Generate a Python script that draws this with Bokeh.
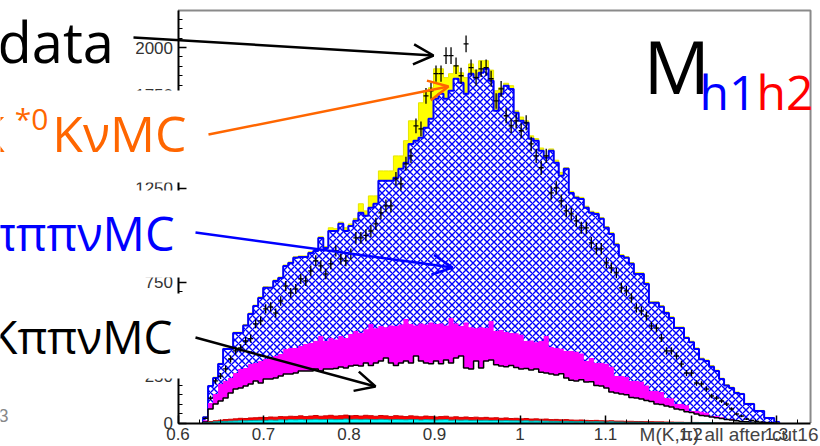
import numpy as np
from bokeh.plotting import figure
from bokeh.models import Label, Arrow, OpenHead, BoxAnnotation, FixedTicker
from bokeh.embed import file_html
from bokeh.resources import INLINE

# ---------------- data ----------------
# histogram binning: 128 bins over [0.6, 1.35]; filled bins start at bin 5
HIST_LO, HIST_HI, N_BINS, FIRST_BIN = 0.6, 1.35, 128, 5

# stacked tops (cumulative heights, as drawn by the stack)
yellow_top = [33, 200, 244, 318, 398, 398, 484, 484, 525, 586,
              628, 672, 726, 724, 762, 778, 842, 858, 886, 890,
              890, 912, 922, 992, 940, 1040, 1035, 1070, 1040, 1060,
              1090, 1168, 1130, 1210, 1210, 1343, 1343, 1343, 1423, 1423,
              1504, 1610, 1610, 1706, 1770, 1786, 1887, 1887, 1840, 1861,
              1903, 1866, 1840, 1913, 1880, 1930, 1930, 1880, 1770, 1786,
              1810, 1797, 1663, 1630, 1610, 1530, 1515, 1465, 1425, 1460,
              1400, 1335, 1360, 1234, 1208, 1202, 1155, 1128, 1122, 1095,
              1047, 1014, 957, 897, 887, 855, 801, 800, 748, 646,
              646, 626, 592, 566, 512, 512, 459, 436, 400, 346,
              336, 306, 282, 239, 205, 191, 165, 158, 105, 105,
              67, 67, 30, 29, 6]
blue_top = [30, 197, 240, 314, 394, 394, 480, 480, 520, 581,
            624, 666, 720, 720, 757, 773, 837, 853, 880, 885,
            885, 906, 917, 986, 933, 1023, 1023, 1061, 1023, 1050,
            1077, 1120, 1104, 1147, 1168, 1290, 1290, 1290, 1306, 1354,
            1386, 1487, 1504, 1520, 1573, 1621, 1727, 1754, 1727, 1770,
            1834, 1813, 1754, 1861, 1840, 1866, 1887, 1823, 1663, 1754,
            1797, 1780, 1653, 1610, 1599, 1514, 1504, 1450, 1413, 1450,
            1386, 1317, 1354, 1226, 1200, 1194, 1147, 1120, 1114, 1088,
            1040, 1007, 950, 890, 880, 848, 794, 794, 741, 640,
            640, 620, 586, 560, 506, 506, 453, 430, 394, 340,
            330, 300, 277, 234, 200, 186, 160, 154, 101, 101,
            64, 64, 27, 27, 5]
magenta_top = [15, 107, 154, 208, 224, 240, 266, 288, 293, 314,
               320, 330, 341, 346, 357, 368, 394, 400, 400, 410,
               421, 426, 437, 464, 437, 453, 445, 464, 453, 474,
               490, 480, 500, 528, 505, 517, 510, 520, 517, 525,
               554, 528, 520, 530, 525, 535, 528, 530, 520, 560,
               530, 517, 535, 510, 505, 510, 506, 544, 490, 495,
               485, 480, 478, 470, 437, 440, 430, 437, 464, 405,
               400, 395, 384, 384, 380, 370, 330, 346, 320, 320,
               315, 300, 250, 250, 245, 224, 224, 220, 200, 170,
               170, 165, 133, 130, 101, 101, 95, 64, 64, 60,
               55, 37, 37, 30, 21, 21, 15, 10, 8, 5,
               3, 2, 1, 0, 0]
kpipinu_top = [5, 75, 101, 117, 133, 160, 181, 186, 197, 208,
               224, 213, 234, 234, 240, 250, 261, 261, 266, 277,
               277, 277, 288, 277, 288, 288, 290, 298, 293, 304,
               308, 304, 320, 306, 320, 330, 346, 320, 306, 320,
               330, 320, 357, 330, 320, 316, 330, 316, 336, 320,
               346, 357, 293, 288, 330, 293, 330, 336, 310, 304,
               300, 306, 296, 288, 290, 282, 288, 270, 266, 261,
               256, 262, 240, 228, 224, 230, 218, 220, 200, 197,
               186, 165, 160, 155, 150, 136, 133, 128, 120, 115,
               101, 98, 90, 85, 75, 70, 60, 56, 48, 40,
               37, 32, 28, 24, 18, 16, 12, 8, 6, 4,
               2, 1, 0, 0, 0]
red_top = [2, 8, 12, 15, 18, 20, 22, 25, 24, 27,
           28, 30, 29, 32, 31, 34, 33, 36, 35, 38,
           34, 37, 40, 36, 38, 41, 37, 39, 42, 38,
           40, 37, 41, 39, 36, 40, 38, 35, 39, 37,
           34, 38, 36, 33, 37, 35, 32, 34, 36, 31,
           33, 30, 32, 29, 31, 28, 30, 27, 28, 25,
           27, 24, 25, 22, 24, 21, 22, 20, 21, 18,
           19, 17, 18, 16, 15, 16, 14, 13, 14, 12,
           11, 12, 10, 10, 9, 9, 8, 8, 7, 7,
           6, 6, 5, 5, 4, 4, 3, 3, 3, 2,
           2, 2, 1, 1, 1, 1, 1, 0, 0, 0,
           0, 0, 0, 0, 0]
cyan_top = [1, 4, 6, 8, 9, 10, 11, 12, 12, 13,
            14, 15, 14, 16, 15, 17, 16, 18, 17, 19,
            17, 18, 20, 18, 19, 20, 18, 19, 21, 19,
            20, 18, 20, 19, 18, 20, 19, 17, 19, 18,
            17, 19, 18, 16, 18, 17, 16, 17, 18, 15,
            16, 15, 16, 14, 15, 14, 15, 13, 14, 12,
            13, 12, 12, 11, 12, 10, 11, 10, 10, 9,
            9, 8, 9, 8, 7, 8, 7, 6, 7, 6,
            5, 6, 5, 5, 4, 4, 4, 4, 3, 3,
            3, 3, 2, 2, 2, 2, 1, 1, 1, 1,
            1, 1, 0, 0, 0, 0, 0, 0, 0, 0,
            0, 0, 0, 0, 0]
data_counts = [25, 133, 224, 250, 288, 341, 384, 400, 437, 450,
               528, 544, 608, 618, 586, 650, 730, 693, 714, 768,
               757, 810, 864, 837, 794, 848, 917, 874, 864, 900,
               986, 986, 1000, 1023, 1061, 1120, 1157, 1157, 1301, 1274,
               1381, 1423, 1583, 1567, 1743, 1770, 1861, 1861, 1957, 1957,
               1903, 1850, 2020, 1893, 1840, 1887, 1893, 1834, 1716, 1780,
               1637, 1583, 1610, 1557, 1599, 1487, 1423, 1360, 1423, 1226,
               1253, 1183, 1130, 1114, 1077, 1040, 1040, 960, 928, 928,
               853, 826, 800, 720, 704, 666, 613, 597, 570, 517,
               506, 453, 384, 384, 357, 314, 266, 266, 213, 208,
               181, 144, 133, 117, 101, 75, 48, 37, 21, 14,
               9, 5, 3, 1, 0]

X_TICKS = [0.6, 0.7, 0.8, 0.9, 1.0, 1.1, 1.2, 1.3]
X_TICK_LABELS = ["0.6", "0.7", "0.8", "0.9", "1", "1.1", "1.2", "1.3"]
Y_TICKS = [0, 250, 500, 750, 1000, 1250, 1500, 1750, 2000]
Y_TICK_LABELS = ["0", "250", "500", "750", "1000", "1250", "1500", "1750", "2000"]
X_AXIS_MIN, X_AXIS_MAX = 0.6, 1.3398
Y_AXIS_MIN, Y_AXIS_MAX = 0, 2197

series = [yellow_top, blue_top, magenta_top, kpipinu_top, red_top, cyan_top, data_counts]
n = len(data_counts)
for s in series:
    if len(s) != n:
        raise ValueError("series length mismatch: %d vs %d" % (len(s), n))

edges_all = np.linspace(HIST_LO, HIST_HI, N_BINS + 1)
edges = edges_all[FIRST_BIN:FIRST_BIN + n + 1]
left, right = edges[:-1], edges[1:]
center = 0.5 * (left + right)


def step_outline(vals):
    v = np.asarray(vals, dtype=float)
    xs = np.concatenate([[edges[0]], np.repeat(edges, 2)[1:-1], [edges[-1]]])
    ys = np.concatenate([[0.0], np.repeat(v, 2), [0.0]])
    return xs, ys


# ---------------- layout: frame fills the whole canvas, axes drawn at fixed locations ----------------
W, H = 820, 446
PX_PER_X = 855.0       # pixels per unit of x
PX_PER_Y = 0.1877      # pixels per count
X0_PX = 177.5          # canvas x of x = 0.6
Y0_PX = 23.5           # height above canvas bottom of y = 0
x_start = 0.6 - X0_PX / PX_PER_X
x_end = x_start + W / PX_PER_X
y_start = -Y0_PX / PX_PER_Y
y_end = y_start + H / PX_PER_Y

p = figure(width=W, height=H, x_range=(x_start, x_end), y_range=(y_start, y_end),
           output_backend="svg", toolbar_location=None,
           min_border=0, min_border_left=0, min_border_right=0,
           min_border_top=0, min_border_bottom=0)
p.xgrid.visible = False
p.ygrid.visible = False
p.background_fill_color = "white"
p.border_fill_color = "white"
p.outline_line_color = None

# stack: largest first so smaller ones overlay
xs, ys = step_outline(yellow_top)
p.varea(x=xs, y1=np.zeros_like(ys), y2=ys, fill_color="#ffff00")
p.line(xs, ys, line_color="#e6e600", line_width=1)

xs, ys = step_outline(blue_top)
p.varea(x=xs, y1=np.zeros_like(ys), y2=ys, fill_color="white",
        hatch_pattern="diagonal_cross", hatch_color="#0000ff", hatch_scale=7, hatch_weight=1.4)
p.line(xs, ys, line_color="#0000ff", line_width=2)

xs, ys = step_outline(magenta_top)
p.varea(x=xs, y1=np.zeros_like(ys), y2=ys, fill_color="#ff00ff")

xs, ys = step_outline(kpipinu_top)
p.varea(x=xs, y1=np.zeros_like(ys), y2=ys, fill_color="white")
p.line(xs, ys, line_color="black", line_width=1.5)

xs, ys = step_outline(red_top)
p.varea(x=xs, y1=np.zeros_like(ys), y2=ys, fill_color="#ff0000")
p.line(xs, ys, line_color="#cc0000", line_width=1)

xs, ys = step_outline(cyan_top)
p.varea(x=xs, y1=np.zeros_like(ys), y2=ys, fill_color="#00ffff")
p.line(xs, ys, line_color="#009999", line_width=1)

d = np.asarray(data_counts, dtype=float)
m = d > 0
err = np.sqrt(d)
p.segment(x0=left[m], y0=d[m], x1=right[m], y1=d[m], line_color="black", line_width=1.3)
p.segment(x0=center[m], y0=(d - err)[m], x1=center[m], y1=(d + err)[m], line_color="black", line_width=1.3)

# frame top / right border (grey)
p.line([X_AXIS_MIN, X_AXIS_MAX, X_AXIS_MAX], [Y_AXIS_MAX, Y_AXIS_MAX, Y_AXIS_MIN],
       line_color="#8a8a8a", line_width=2)

# ---------------- axes ----------------
x_minor = list(np.round(np.arange(0.6, 1.3376, 0.025), 4))
y_minor = list(np.arange(0, 2195, 50))
p.xaxis.ticker = FixedTicker(ticks=X_TICKS, minor_ticks=x_minor)
p.yaxis.ticker = FixedTicker(ticks=Y_TICKS, minor_ticks=y_minor)
p.xaxis.major_label_overrides = dict(zip(X_TICKS, X_TICK_LABELS))
p.yaxis.major_label_overrides = dict(zip(Y_TICKS, Y_TICK_LABELS))
p.xaxis.fixed_location = Y_AXIS_MIN
p.yaxis.fixed_location = X_AXIS_MIN
p.xaxis.bounds = (X_AXIS_MIN, X_AXIS_MAX)
p.yaxis.bounds = (Y_AXIS_MIN, Y_AXIS_MAX)
for ax in (p.xaxis[0], p.yaxis[0]):
    ax.axis_line_color = "black"
    ax.axis_line_width = 2
    ax.major_tick_in = 8
    ax.major_tick_out = 0
    ax.minor_tick_in = 4
    ax.minor_tick_out = 0
    ax.major_tick_line_color = "black"
    ax.minor_tick_line_color = "black"
    ax.major_tick_line_width = 1.5
    ax.major_label_text_font = "Liberation Sans"
    ax.major_label_text_font_size = "17px"
    ax.major_label_text_color = "#333333"
p.xaxis.major_label_standoff = 5
p.yaxis.major_label_standoff = 5

# ---------------- overlay labels (screen units: from canvas left / bottom) ----------------
def box(l, r, t, b):
    p.add_layout(BoxAnnotation(left=l, right=r, top=t, bottom=b,
                               left_units="screen", right_units="screen",
                               top_units="screen", bottom_units="screen",
                               fill_color="white", fill_alpha=1.0, line_color=None,
                               level="overlay"))

box(-50, 135, 460, 356)
box(-50, 205, 356, 264)
box(-50, 193, 256, 169)
box(-50, 194, 153, 68)


def label(x, y, text, size, color, align="left", font="Open Sans"):
    p.add_layout(Label(x=x, y=y, x_units="screen", y_units="screen", text=text,
                       text_font=font, text_font_size=size, text_color=color,
                       text_align=align, text_baseline="alphabetic", level="overlay"))


label(-3, 406, "data", "56px", "black")
label(186, 314, "KνMC", "50px", "#ff6600", "right")
label(48, 328, "*0", "30px", "#ff6600", "right")
label(4, 314, "K", "50px", "#ff6600", "right")
label(174, 214, "KπππνMC", "47px", "#0000ff", "right")
label(172, 111, "KππνMC", "46px", "black", "right")
label(8, 31, "3", "18px", "#888888", "right", "Liberation Sans")

label(643, 381, "M", "74px", "black")
label(699, 355, "h1", "48px", "#0000ff")
label(756, 355, "h2", "48px", "#ff0000")

label(818, 12, "M(K,π) all after cut16", "19px", "#444444", "right", "Liberation Sans")


def arrow(x0, y0, x1, y1, color):
    p.add_layout(Arrow(x_start=x0, y_start=y0, x_end=x1, y_end=y1,
                       start_units="screen", end_units="screen",
                       line_color=color, line_width=2.5, level="overlay",
                       end=OpenHead(size=20, line_color=color, line_width=2.5)))


arrow(133, 409, 433, 391, "black")
arrow(208, 312, 448, 360, "#ff6600")
arrow(195, 214, 452, 179, "#0000ff")
arrow(195, 109, 375, 60, "black")

open("out.html", "w").write(file_html(p, INLINE))
